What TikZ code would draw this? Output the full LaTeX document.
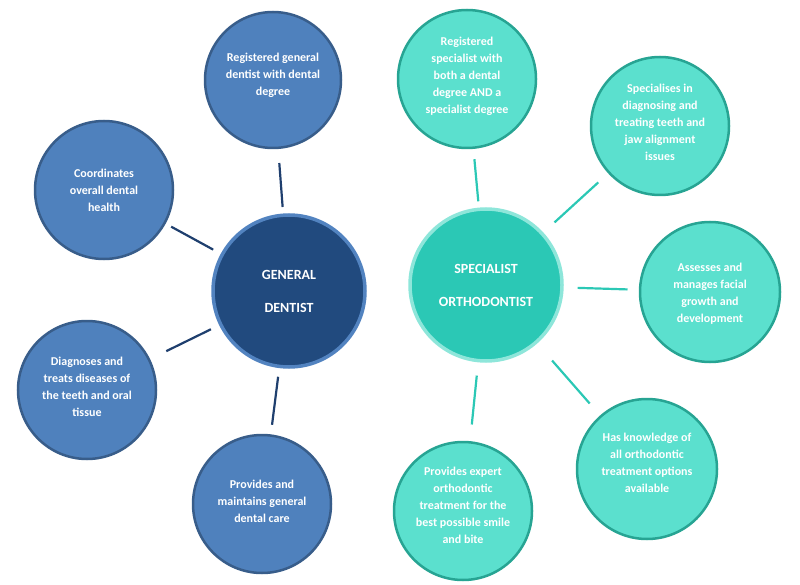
\documentclass[tikz,border=0pt]{standalone}
\usepackage{fontspec}
\setmainfont{Carlito}
\definecolor{gsat}{HTML}{4F81BD}
\definecolor{gsatb}{HTML}{385D8A}
\definecolor{gcen}{HTML}{214A7E}
\definecolor{gcenb}{HTML}{5283C0}
\definecolor{gline}{HTML}{1F3F6E}
\definecolor{ssat}{HTML}{5BE0CE}
\definecolor{ssatb}{HTML}{27A493}
\definecolor{scen}{HTML}{2BC8B5}
\definecolor{scenb}{HTML}{8EE6DA}
\definecolor{sline}{HTML}{2BC8B5}
\tikzset{
  sat/.style={circle, inner sep=0pt, line width=2.5pt, minimum size=#1},
  gsatn/.style={sat=#1, fill=gsat, draw=gsatb},
  ssatn/.style={sat=#1, fill=ssat, draw=ssatb},
  ltext/.style={inner sep=0pt, align=center, text=white,
    font=\fontsize{12}{17}\selectfont\bfseries},
  cen/.style={circle, inner sep=0pt, line width=3.5pt, align=center, text=white,
    font=\fontsize{14}{33}\selectfont\bfseries, minimum size=152pt},
  gline/.style={draw=gline, line width=2.2pt},
  sline/.style={draw=sline, line width=2.2pt},
}
\begin{document}
\begin{tikzpicture}[x=1pt,y=-1pt]
\useasboundingbox (0,0) rectangle (800,585);
% general dentist side
\node[cen, fill=gcen, draw=gcenb] (G) at (289,291) {GENERAL\\DENTIST};
\node[gsatn=136pt, label={[ltext, yshift=5pt]center:{Registered general\\dentist with dental\\degree}}] (T1) at (273,80) {};
\node[gsatn=138pt, label={[ltext]center:{Coordinates\\overall dental\\health}}] (C) at (104,190) {};
\node[gsatn=138pt, label={[ltext, yshift=3pt]center:{Diagnoses and\\treats diseases of\\the teeth and oral\\tissue}}] (D) at (87,390) {};
\node[gsatn=138pt, label={[ltext, yshift=3pt]center:{Provides and\\maintains general\\dental care}}] (P) at (262,504) {};
% specialist side
\node[cen, fill=scen, draw=scenb] (S) at (486,285) {SPECIALIST\\ORTHODONTIST};
\node[ssatn=138pt, label={[ltext, yshift=3pt]center:{Registered\\specialist with\\both a dental\\degree AND a\\specialist degree}}] (R1) at (467,79) {};
\node[ssatn=138pt, label={[ltext, yshift=4pt]center:{Specialises in\\diagnosing and\\treating teeth and\\jaw alignment\\issues}}] (Sp) at (660,126) {};
\node[ssatn=140pt, label={[ltext, yshift=-2pt]center:{Assesses and\\manages facial\\growth and\\development}}] (A) at (710,292) {};
\node[ssatn=140pt, label={[ltext, yshift=6pt]center:{Has knowledge of\\all orthodontic\\treatment options\\available}}] (K) at (647,469) {};
\node[ssatn=138pt, label={[ltext, yshift=6pt]center:{Provides expert\\orthodontic\\treatment for the\\best possible smile\\and bite}}] (E) at (463,511) {};
% connectors
\draw[gline, shorten <=6.5pt, shorten >=14pt] (G) -- (T1);
\draw[gline, shorten <=8.6pt, shorten >=6.3pt] (G) -- (C);
\draw[gline, shorten <=9.2pt, shorten >=18pt] (G) -- (D);
\draw[gline, shorten <=8.7pt, shorten >=9.6pt] (G) -- (P);
\draw[sline, shorten <=6.3pt, shorten >=10.3pt] (S) -- (R1);
\draw[sline, shorten <=15pt, shorten >=13.4pt] (S) -- (Sp);
\draw[sline, shorten <=14pt, shorten >=11.3pt] (S) -- (A);
\draw[sline, shorten <=22.6pt, shorten >=15.8pt] (S) -- (K);
\draw[sline, shorten <=13.3pt, shorten >=16.7pt] (S) -- (E);
\end{tikzpicture}
\end{document}
